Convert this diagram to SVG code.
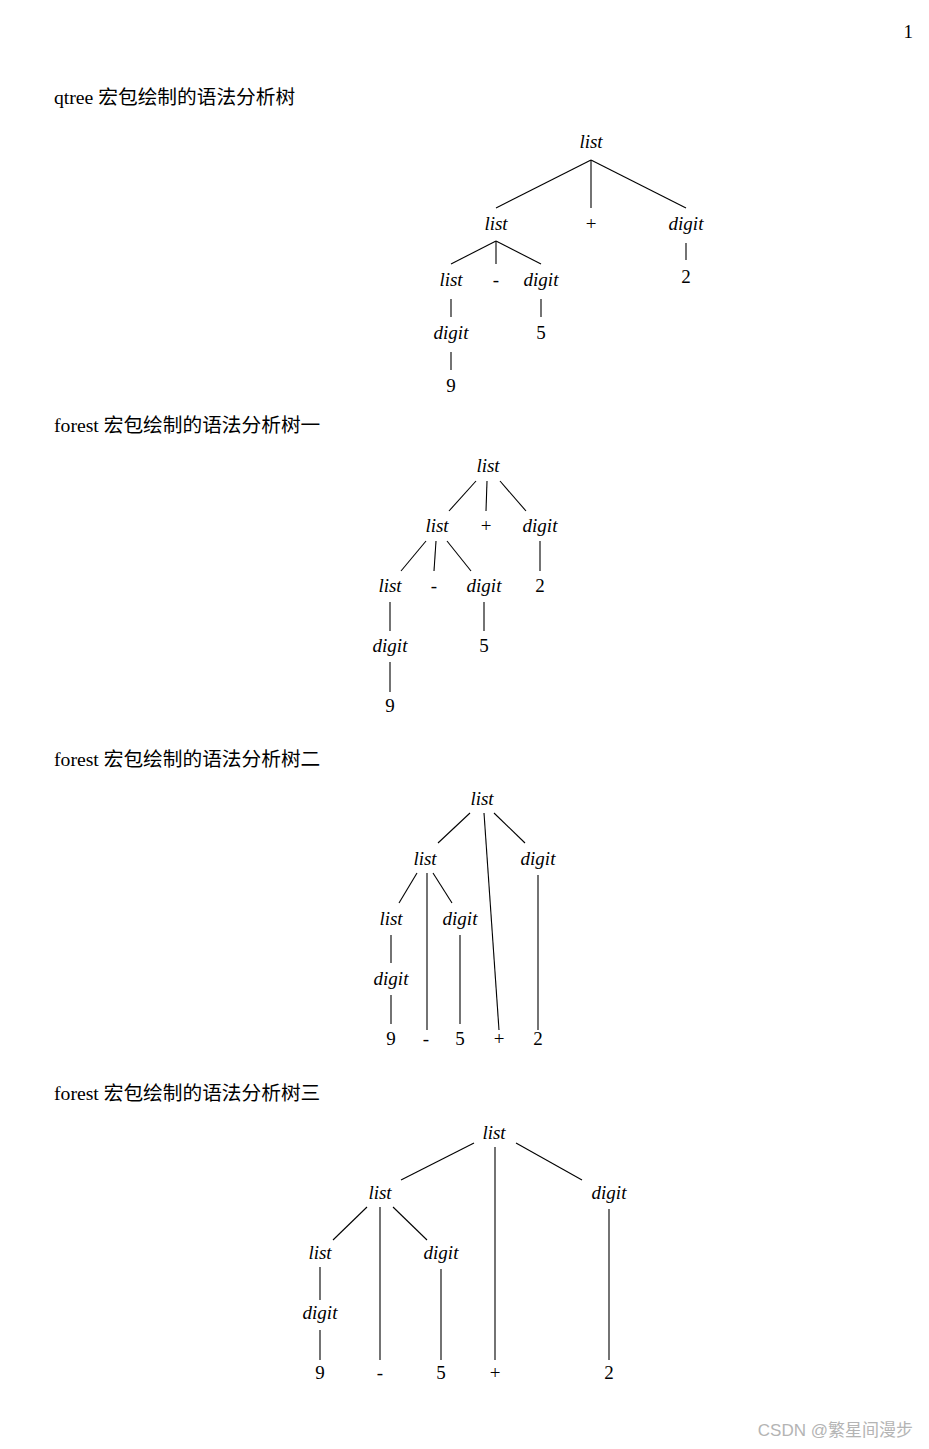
<svg xmlns="http://www.w3.org/2000/svg" width="929" height="1449" viewBox="0 0 929 1449">
<style>
text{font-family:"Liberation Serif","Noto Sans CJK SC",serif;font-size:19px;fill:#000}
.n{text-anchor:middle}
.i{font-style:italic}
.t{font-size:19.7px}
line{stroke:#000;stroke-width:1.1}
.w{font-family:"Liberation Sans","Noto Sans CJK SC",sans-serif;font-size:17px;fill:#b4b4b4;text-anchor:end}
</style>
<rect width="929" height="1449" fill="#fff"/>
<text x="913" y="38" text-anchor="end">1</text>
<text class="t" x="54" y="104">qtree 宏包绘制的语法分析树</text>
<text class="t" x="54" y="432">forest 宏包绘制的语法分析树一</text>
<text class="t" x="54" y="766">forest 宏包绘制的语法分析树二</text>
<text class="t" x="54" y="1100">forest 宏包绘制的语法分析树三</text>
<text class="w" x="913" y="1436">CSDN @繁星间漫步</text>
<g id="connectors">
<line x1="591" y1="160" x2="496" y2="208"/><line x1="591" y1="160" x2="591" y2="208"/><line x1="591" y1="160" x2="686" y2="208"/>
<line x1="496" y1="241" x2="451" y2="264"/><line x1="496" y1="241" x2="496" y2="264"/><line x1="496" y1="241" x2="541" y2="264"/>
<line x1="451" y1="299" x2="451" y2="317"/><line x1="451" y1="352" x2="451" y2="370"/><line x1="541" y1="299" x2="541" y2="317"/><line x1="686" y1="243" x2="686" y2="260"/>
<line x1="476" y1="481" x2="449" y2="511"/><line x1="487" y1="481" x2="486" y2="511"/><line x1="500" y1="481" x2="526" y2="511"/>
<line x1="426" y1="541" x2="401" y2="571"/><line x1="436" y1="541" x2="434" y2="571"/><line x1="447" y1="541" x2="471" y2="571"/>
<line x1="540" y1="541" x2="540" y2="571"/><line x1="390" y1="602" x2="390" y2="631"/><line x1="390" y1="662" x2="390" y2="692"/><line x1="484" y1="602" x2="484" y2="631"/>
<line x1="470" y1="813" x2="438" y2="843"/><line x1="484" y1="813" x2="499" y2="1030"/><line x1="494" y1="813" x2="525" y2="843"/>
<line x1="417" y1="873" x2="399" y2="903"/><line x1="427" y1="873" x2="427" y2="1030"/><line x1="433" y1="873" x2="452" y2="903"/>
<line x1="538" y1="875" x2="538" y2="1030"/><line x1="391" y1="935" x2="391" y2="963"/><line x1="391" y1="995" x2="391" y2="1024"/><line x1="460" y1="935" x2="460" y2="1024"/>
<line x1="474" y1="1143" x2="401" y2="1180"/><line x1="495" y1="1147" x2="495" y2="1360"/><line x1="516" y1="1143" x2="582" y2="1180"/>
<line x1="367" y1="1207" x2="333" y2="1240"/><line x1="380" y1="1207" x2="380" y2="1360"/><line x1="393" y1="1207" x2="427" y2="1240"/>
<line x1="609" y1="1209" x2="609" y2="1360"/><line x1="320" y1="1267" x2="320" y2="1300"/><line x1="320" y1="1330" x2="320" y2="1360"/><line x1="441" y1="1269" x2="441" y2="1360"/>
</g>
<g id="tree1">
<text class="n i" x="591" y="148">list</text>
<text class="n i" x="496" y="230">list</text><text class="n" x="591" y="230">+</text><text class="n i" x="686" y="230">digit</text>
<text class="n i" x="451" y="286">list</text><text class="n" x="496" y="286">-</text><text class="n i" x="541" y="286">digit</text>
<text class="n i" x="451" y="339">digit</text><text class="n" x="541" y="339">5</text><text class="n" x="451" y="392">9</text><text class="n" x="686" y="283">2</text>
</g>
<g id="tree2">
<text class="n i" x="488" y="472">list</text>
<text class="n i" x="437" y="532">list</text><text class="n" x="486" y="532">+</text><text class="n i" x="540" y="532">digit</text>
<text class="n i" x="390" y="592">list</text><text class="n" x="434" y="592">-</text><text class="n i" x="484" y="592">digit</text><text class="n" x="540" y="592">2</text>
<text class="n i" x="390" y="652">digit</text><text class="n" x="484" y="652">5</text><text class="n" x="390" y="712">9</text>
</g>
<g id="tree3">
<text class="n i" x="482" y="805">list</text>
<text class="n i" x="425" y="865">list</text><text class="n i" x="538" y="865">digit</text>
<text class="n i" x="391" y="925">list</text><text class="n i" x="460" y="925">digit</text>
<text class="n i" x="391" y="985">digit</text>
<text class="n" x="391" y="1045">9</text><text class="n" x="426" y="1045">-</text><text class="n" x="460" y="1045">5</text><text class="n" x="499" y="1045">+</text><text class="n" x="538" y="1045">2</text>
</g>
<g id="tree4">
<text class="n i" x="494" y="1139">list</text>
<text class="n i" x="380" y="1199">list</text><text class="n i" x="609" y="1199">digit</text>
<text class="n i" x="320" y="1259">list</text><text class="n i" x="441" y="1259">digit</text>
<text class="n i" x="320" y="1319">digit</text>
<text class="n" x="320" y="1379">9</text><text class="n" x="380" y="1379">-</text><text class="n" x="441" y="1379">5</text><text class="n" x="495" y="1379">+</text><text class="n" x="609" y="1379">2</text>
</g>
</svg>
